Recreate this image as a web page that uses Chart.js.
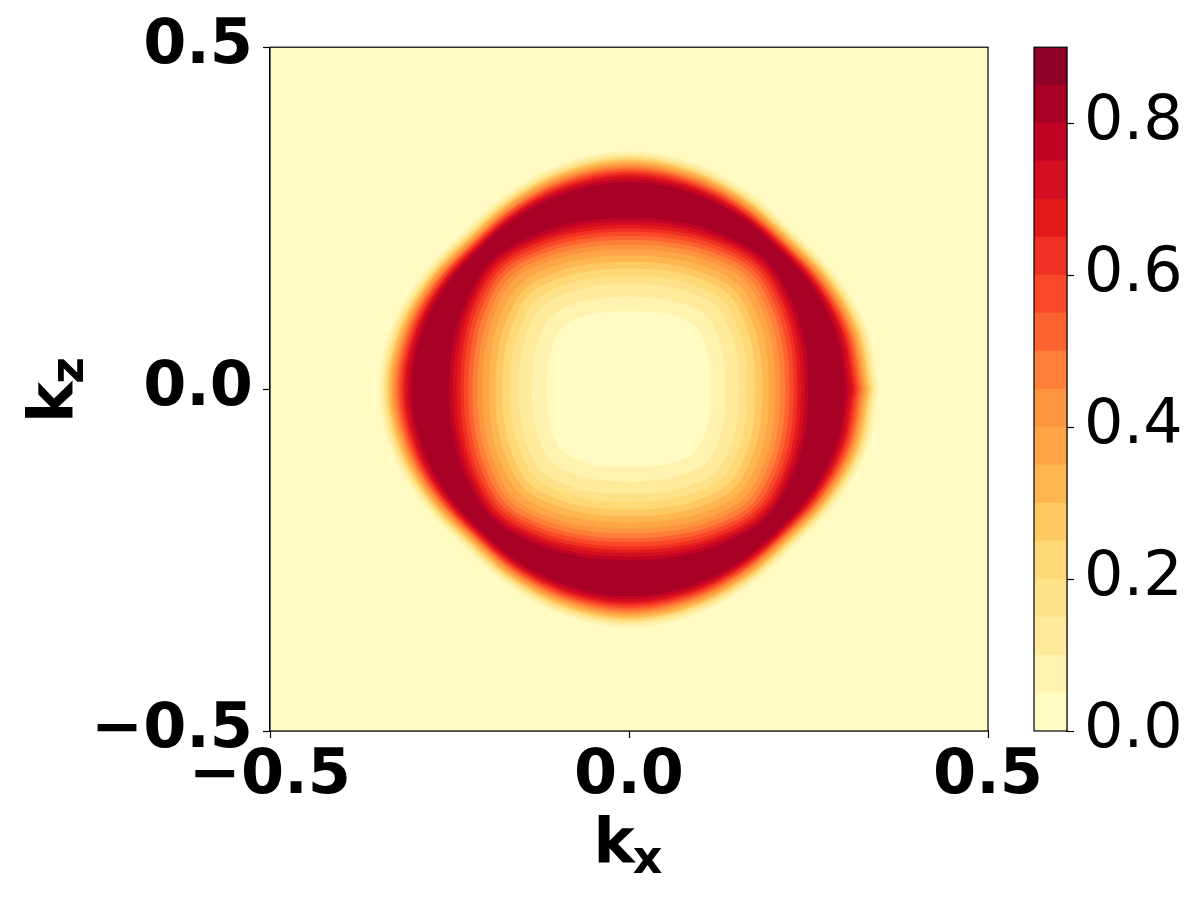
<!DOCTYPE html>
<html>
<head>
<meta charset="utf-8">
<script src="https://cdn.jsdelivr.net/npm/chart.js@4.4.1/dist/chart.umd.min.js"></script>
<style>
  body { margin: 0; background: #fff; }
  #wrap { position: relative; width: 1200px; height: 900px; }
  #map { position: absolute; left: 0; top: 0; }
  #cbar { position: absolute; left: 1000px; top: 0; }
</style>
</head>
<body>
<div id="wrap">
  <canvas id="map" width="1200" height="900"></canvas>
  <canvas id="cbar" width="200" height="900"></canvas>
</div>
<script>
// axes
const xTicks = [-0.5, 0.0, 0.5];
const yTicks = [-0.5, 0.0, 0.5];
const xLabel = ['k', 'x'];
const yLabel = ['k', 'z'];

// colour bar
const cbarLevels = [0, 0.05, 0.1, 0.15, 0.2, 0.25, 0.3, 0.35, 0.4, 0.45, 0.5, 0.55, 0.6, 0.65, 0.7, 0.75, 0.8, 0.85, 0.9];
const cbarTicks = [0.0, 0.2, 0.4, 0.6, 0.8];

// contour levels that show up in the map
const levels = [0.05, 0.1, 0.15, 0.2, 0.25, 0.3, 0.35, 0.4, 0.45, 0.5, 0.55, 0.6, 0.65, 0.7, 0.75, 0.8];

// radius of each level where the value rises (inner edge of the ring), read at 0, 15, 30, 45 deg
const innerR0  = [0.114, 0.135, 0.153, 0.165, 0.176, 0.186, 0.195, 0.204, 0.211, 0.218, 0.224, 0.230, 0.235, 0.240, 0.245, 0.250];
const innerR15 = [0.117, 0.138, 0.157, 0.169, 0.180, 0.190, 0.199, 0.208, 0.215, 0.222, 0.228, 0.234, 0.239, 0.244, 0.249, 0.254];
const innerR30 = [0.124, 0.145, 0.164, 0.176, 0.188, 0.198, 0.208, 0.217, 0.224, 0.231, 0.237, 0.243, 0.248, 0.252, 0.256, 0.261];
const innerR45 = [0.130, 0.152, 0.171, 0.184, 0.196, 0.206, 0.216, 0.226, 0.233, 0.240, 0.246, 0.251, 0.256, 0.260, 0.264, 0.268];

// radius where the value falls again (outer edge of the ring)
const outerR0  = [0.348, 0.344, 0.341, 0.339, 0.336, 0.334, 0.331, 0.329, 0.326, 0.323, 0.320, 0.317, 0.314, 0.311, 0.307, 0.303];
const outerR15 = [0.343, 0.339, 0.336, 0.333, 0.331, 0.329, 0.326, 0.324, 0.321, 0.319, 0.316, 0.313, 0.310, 0.308, 0.304, 0.300];
const outerR30 = [0.333, 0.329, 0.326, 0.324, 0.322, 0.320, 0.318, 0.316, 0.313, 0.311, 0.309, 0.306, 0.304, 0.302, 0.299, 0.296];
const outerR45 = [0.325, 0.322, 0.319, 0.317, 0.315, 0.313, 0.311, 0.309, 0.307, 0.305, 0.303, 0.301, 0.299, 0.297, 0.295, 0.292];

Chart.defaults.font.family = '"DejaVu Sans", sans-serif';
Chart.defaults.color = '#000';

// YlOrRd
const ylorrd = [[255,255,204],[255,237,160],[254,217,118],[254,178,76],[253,141,60],[252,78,42],[227,26,28],[189,0,38],[128,0,38]];
function cmap(t) {
  const s = t * 8;
  const i = Math.min(7, Math.floor(s));
  const f = s - i;
  const a = ylorrd[i], b = ylorrd[i + 1];
  const c = a.map((v, k) => Math.round(v + (b[k] - v) * f));
  return 'rgb(' + c.join(',') + ')';
}
// each band takes the colour of its middle value
const nBands = cbarLevels.length - 1;
const vmax = cbarLevels[nBands];
const bandColors = [];
for (let i = 0; i < nBands; i++) bandColors.push(cmap((cbarLevels[i] + cbarLevels[i + 1]) / 2 / vmax));

function fmt(v) {
  if (Math.abs(v) < 1e-9) return '0.0';
  return (v < 0 ? '\u2212' : '') + Math.abs(v).toFixed(1);
}

// closed contour from the radii at 0/15/30/45 deg, mirrored round the square
function ring(r) {
  const pts = [];
  for (let d = 0; d <= 360; d += 15) {
    const q = d % 90;
    const rad = q <= 45 ? r[q / 15] : r[(90 - q) / 15];
    const a = d * Math.PI / 180;
    pts.push({x: rad * Math.cos(a), y: rad * Math.sin(a)});
  }
  return pts;
}

const layers = [];
// outer edges, light to dark
levels.forEach((lv, i) => {
  layers.push({r: [outerR0[i], outerR15[i], outerR30[i], outerR45[i]], color: bandColors[i + 1]});
});
// holes, dark to light
for (let i = levels.length - 1; i >= 0; i--) {
  layers.push({r: [innerR0[i], innerR15[i], innerR30[i], innerR45[i]], color: bandColors[i]});
}

const datasets = layers.map((l, k) => ({
  data: ring(l.r),
  showLine: true,
  fill: 'shape',
  backgroundColor: l.color,
  borderColor: l.color,
  borderWidth: 0,
  pointRadius: 0,
  tension: 0.35,
  order: layers.length - k
}));

const framePlugin = {
  id: 'frame',
  beforeDatasetsDraw(chart) {
    const {ctx, chartArea: a} = chart;
    ctx.save();
    ctx.fillStyle = bandColors[0];
    ctx.fillRect(a.left, a.top, a.right - a.left, a.bottom - a.top);
    ctx.restore();
  },
  afterDatasetsDraw(chart) {
    const {ctx, chartArea: a} = chart;
    ctx.save();
    ctx.strokeStyle = '#000';
    ctx.lineWidth = 1.2;
    ctx.strokeRect(a.left, a.top, a.right - a.left, a.bottom - a.top);
    ctx.restore();
  }
};

const labelPlugin = {
  id: 'axisLabels',
  afterDraw(chart) {
    const {ctx, chartArea: a} = chart;
    const big = 'bold 62px "DejaVu Sans"';
    const small = 'bold 46px "DejaVu Sans"';
    ctx.save();
    ctx.fillStyle = '#000';
    ctx.textAlign = 'left';
    ctx.textBaseline = 'alphabetic';
    // x label
    ctx.font = big;
    let w1 = ctx.measureText(xLabel[0]).width;
    ctx.font = small;
    let w2 = ctx.measureText(xLabel[1]).width;
    let x0 = (a.left + a.right) / 2 - (w1 + w2) / 2;
    ctx.font = big;
    ctx.fillText(xLabel[0], x0, 862);
    ctx.font = small;
    ctx.fillText(xLabel[1], x0 + w1 - 2, 873);
    // y label
    ctx.font = big;
    w1 = ctx.measureText(yLabel[0]).width;
    ctx.font = small;
    w2 = ctx.measureText(yLabel[1]).width;
    ctx.translate(72, (a.top + a.bottom) / 2);
    ctx.rotate(-Math.PI / 2);
    x0 = -(w1 + w2) / 2;
    ctx.font = big;
    ctx.fillText(yLabel[0], x0, 0);
    ctx.font = small;
    ctx.fillText(yLabel[1], x0 + w1 - 2, 11);
    ctx.restore();
  }
};

const tickFont = {size: 62, weight: 'bold'};

new Chart(document.getElementById('map'), {
  type: 'scatter',
  data: {datasets},
  options: {
    responsive: false,
    animation: false,
    events: [],
    layout: {padding: {left: 0, top: 45, right: 212, bottom: 0}},
    plugins: {legend: {display: false}, tooltip: {enabled: false}},
    scales: {
      x: {
        type: 'linear', min: -0.5, max: 0.5,
        afterBuildTicks: s => { s.ticks = xTicks.map(v => ({value: v})); },
        afterFit: s => { s.height = 169; },
        ticks: {callback: v => fmt(v), font: tickFont, color: '#000', padding: 2, maxRotation: 0, autoSkip: false},
        grid: {drawOnChartArea: false, drawTicks: true, tickLength: 7, tickColor: '#000', tickWidth: 1.2},
        border: {display: true, color: '#000', width: 1.2}
      },
      y: {
        type: 'linear', min: -0.5, max: 0.5,
        afterBuildTicks: s => { s.ticks = yTicks.map(v => ({value: v})); },
        afterFit: s => { s.width = 270; },
        ticks: {callback: v => fmt(v), font: tickFont, color: '#000', padding: 10, autoSkip: false},
        grid: {drawOnChartArea: false, drawTicks: true, tickLength: 7, tickColor: '#000', tickWidth: 1.2},
        border: {display: true, color: '#000', width: 1.2}
      }
    }
  },
  plugins: [framePlugin, labelPlugin]
});

// colour bar: one floating bar per band
new Chart(document.getElementById('cbar'), {
  type: 'bar',
  data: {
    labels: [''],
    datasets: bandColors.map((c, i) => ({
      data: [[cbarLevels[i], cbarLevels[i + 1]]],
      backgroundColor: c,
      borderWidth: 0,
      barPercentage: 1,
      categoryPercentage: 1,
      grouped: false
    }))
  },
  options: {
    responsive: false,
    animation: false,
    events: [],
    layout: {padding: {left: 34, top: 45, right: 0, bottom: 169}},
    plugins: {legend: {display: false}, tooltip: {enabled: false}},
    scales: {
      x: {display: false},
      y: {
        position: 'right', min: 0, max: 0.9,
        afterBuildTicks: s => { s.ticks = cbarTicks.map(v => ({value: v})); },
        afterFit: s => { s.width = 133; },
        ticks: {callback: v => fmt(v), font: {size: 62}, color: '#000', padding: 10, autoSkip: false},
        grid: {drawOnChartArea: false, drawTicks: true, tickLength: 7, tickColor: '#000', tickWidth: 1.2},
        border: {display: true, color: '#000', width: 1.2}
      }
    }
  },
  plugins: [{
    id: 'cbarFrame',
    afterDatasetsDraw(chart) {
      const {ctx, chartArea: a} = chart;
      ctx.save();
      ctx.strokeStyle = '#000';
      ctx.lineWidth = 1.2;
      ctx.strokeRect(a.left, a.top, a.right - a.left, a.bottom - a.top);
      ctx.restore();
    }
  }]
});
</script>
</body>
</html>
